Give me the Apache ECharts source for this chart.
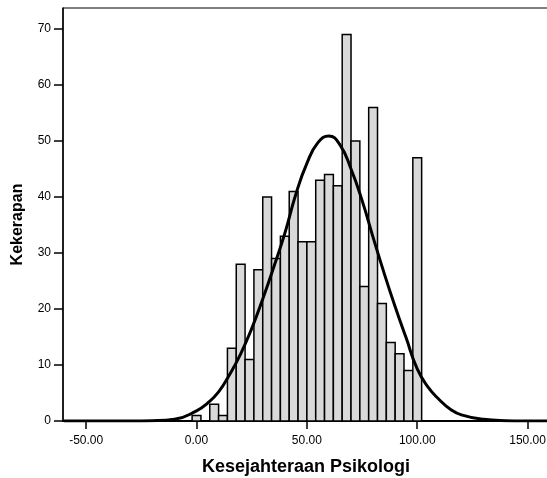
<!DOCTYPE html>
<html>
<head>
<meta charset="utf-8">
<script src="https://cdn.jsdelivr.net/npm/echarts@6/dist/echarts.min.js"></script>
<style>
  html, body { margin: 0; padding: 0; background: #fff; }
  #chart { width: 547px; height: 478px; }
</style>
</head>
<body>
<div id="chart"></div>
<script>
// histogram bins (centre of each bin) and their counts
const binWidth = 4;
const binCenters = [0, 4, 8, 12, 16, 20, 24, 28, 32, 36, 40, 44, 48, 52, 56, 60, 64, 68, 72, 76, 80, 84, 88, 92, 96, 100];
const binCounts = [1, 0, 3, 1, 13, 28, 11, 27, 40, 29, 33, 41, 32, 32, 43, 44, 42, 69, 50, 24, 56, 21, 14, 12, 9, 47];

// normal curve
const curveX = [-60, -50, -40, -30, -20, -10, 0, 5, 10, 15, 20, 25, 30, 35, 40, 45, 50, 55, 60, 65, 70, 75, 80, 85, 90, 95, 100, 105, 110, 115, 120, 130, 140, 150, 160];
const curveY = [0, 0, 0, 0, 0.05, 0.3, 1.8, 3.2, 5.2, 8.3, 12, 16.5, 21.8, 27.5, 33.5, 40.5, 46, 49.7, 50.9, 49.3, 45, 39.4, 32.8, 26.4, 20.4, 14.8, 9.3, 6, 3.8, 2.1, 1.1, 0.3, 0.06, 0.01, 0];

const xTicks = [-50, 0, 50, 100, 150];
const yTicks = [0, 10, 20, 30, 40, 50, 60, 70];

const chart = echarts.init(document.getElementById('chart'));

const font = 'Liberation Sans, Arial, sans-serif';

const option = {
    animation: false,
    backgroundColor: '#fff',
    grid: {
        left: 63, right: -2, top: 8, bottom: 57,
        outerBoundsMode: 'none',
        containLabel: false,
        show: true, borderColor: '#000', borderWidth: 1
    },
    xAxis: {
        type: 'value',
        min: -60.5,
        max: 159.7,
        name: 'Kesejahteraan Psikologi',
        nameLocation: 'middle',
        nameGap: 37,
        nameTextStyle: { fontFamily: font, fontSize: 18, fontWeight: 'bold', color: '#000' },
        axisLine: { lineStyle: { color: '#000', width: 2 } },
        axisTick: { show: true, customValues: xTicks, length: 8, lineStyle: { color: '#000', width: 1.5 } },
        axisLabel: {
            customValues: xTicks,
            formatter: v => v.toFixed(2),
            fontFamily: font, fontSize: 12, color: '#000', margin: 14
        },
        splitLine: { show: false }
    },
    yAxis: {
        type: 'value',
        min: 0,
        max: 73.75,
        name: 'Kekerapan',
        nameLocation: 'middle',
        nameGap: 37,
        nameTextStyle: {
            fontFamily: font, fontSize: 16, fontWeight: 'bold', color: '#000',
            padding: [0, 20, 0, 0]
        },
        axisLine: { show: true, onZero: false, lineStyle: { color: '#000', width: 1.5 } },
        axisTick: { show: true, customValues: yTicks, length: 9, lineStyle: { color: '#000', width: 1.5 } },
        axisLabel: {
            customValues: yTicks,
            fontFamily: font, fontSize: 12, color: '#000', margin: 12
        },
        splitLine: { show: false }
    },
    series: [
        {
            type: 'custom',
            data: binCenters.map((c, i) => [c, binCounts[i]]),
            renderItem: (params, api) => {
                const c = api.value(0);
                const n = api.value(1);
                if (!n) return null;
                const p1 = api.coord([c - binWidth / 2, n]);
                const p2 = api.coord([c + binWidth / 2, 0]);
                return {
                    type: 'rect',
                    shape: { x: p1[0], y: p1[1], width: p2[0] - p1[0], height: p2[1] - p1[1] },
                    style: { fill: '#d9d9d9', stroke: '#000', lineWidth: 1.5 }
                };
            },
            z: 2
        },
        {
            type: 'line',
            data: curveX.map((x, i) => [x, curveY[i]]),
            smooth: true,
            showSymbol: false,
            lineStyle: { color: '#000', width: 3 },
            z: 3
        }
    ]
};

chart.setOption(option);
</script>
</body>
</html>
